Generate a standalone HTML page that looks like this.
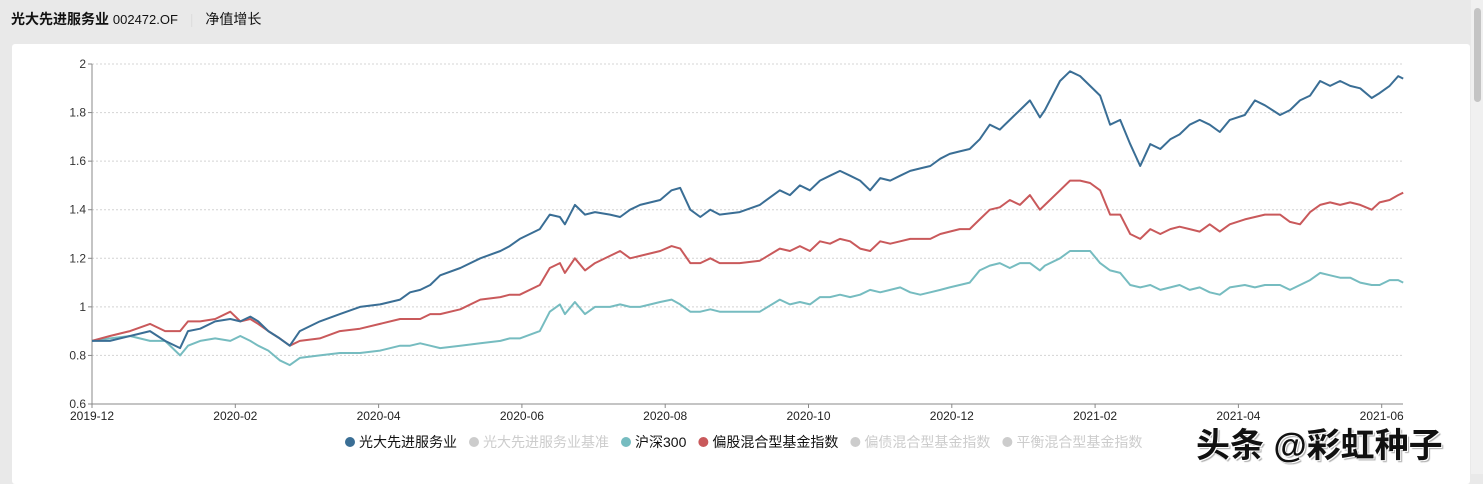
<!DOCTYPE html>
<html><head><meta charset="utf-8">
<style>
body{margin:0;width:1483px;height:474px;overflow:hidden;background:#e9e9e9;font-family:"Liberation Sans","Noto Sans CJK SC",sans-serif;position:relative}
#hdr{position:absolute;left:11px;top:9px;font-size:14px;color:#111}
#card{position:absolute;left:12px;top:44px;width:1458px;height:440px;background:#fff;border-radius:3px}
#sb{position:absolute;left:1471px;top:0;width:12px;height:474px;background:#f0f0f0}
#sbt{position:absolute;left:1474px;top:8px;width:7px;height:94px;background:#c4c4c4;border-radius:4px}
svg{position:absolute;left:0;top:0}
#wm{position:absolute;left:1196px;top:418px;font-size:34px;font-weight:bold;color:#111;font-family:"Liberation Sans","Noto Sans CJK SC",sans-serif;text-shadow:1px 1px 0 #fff,-1px -1px 0 #fff,2px 2px 1px #aaa}
</style></head><body>
<div id="hdr"><b>光大先进服务业</b> <span style="font-size:13px">002472.OF</span> <span style="color:#ddd;margin:0 8px">|</span> <span>净值增长</span></div>
<div id="card"></div>
<svg id="chart" width="1483" height="474"></svg>
<div id="sb"></div><div id="sbt"></div>
<div id="wm">头条 @彩虹种子</div>
<script>
const months=[0,.25,.53,.81,1.02,1.23,1.34,1.51,1.72,1.93,2.07,2.21,2.32,2.46,2.62,2.76,2.90,3.18,3.46,3.74,4.02,4.30,4.44,4.58,4.72,4.86,5.14,5.42,5.70,5.83,5.97,6.25,6.39,6.53,6.60,6.74,6.88,7.02,7.23,7.37,7.51,7.65,7.93,8.09,8.21,8.35,8.49,8.63,8.76,9.04,9.32,9.60,9.74,9.88,10.02,10.16,10.30,10.44,10.58,10.72,10.86,11.00,11.14,11.28,11.42,11.56,11.70,11.84,11.97,12.11,12.25,12.39,12.53,12.67,12.81,12.95,13.09,13.23,13.30,13.51,13.65,13.79,13.93,14.07,14.21,14.35,14.49,14.63,14.77,14.91,15.05,15.18,15.32,15.46,15.60,15.74,15.88,16.09,16.23,16.37,16.58,16.72,16.86,17.00,17.14,17.28,17.42,17.56,17.70,17.86,17.97,18.11,18.23,18.30];
const fund=[.86,.86,.88,.90,.86,.83,.90,.91,.94,.95,.94,.96,.94,.90,.87,.84,.90,.94,.97,1.00,1.01,1.03,1.06,1.07,1.09,1.13,1.16,1.20,1.23,1.25,1.28,1.32,1.38,1.37,1.34,1.42,1.38,1.39,1.38,1.37,1.40,1.42,1.44,1.48,1.49,1.40,1.37,1.40,1.38,1.39,1.42,1.48,1.46,1.50,1.48,1.52,1.54,1.56,1.54,1.52,1.48,1.53,1.52,1.54,1.56,1.57,1.58,1.61,1.63,1.64,1.65,1.69,1.75,1.73,1.77,1.81,1.85,1.78,1.81,1.93,1.97,1.95,1.91,1.87,1.75,1.77,1.67,1.58,1.67,1.65,1.69,1.71,1.75,1.77,1.75,1.72,1.77,1.79,1.85,1.83,1.79,1.81,1.85,1.87,1.93,1.91,1.93,1.91,1.90,1.86,1.88,1.91,1.95,1.94];
const hs300=[.86,.87,.88,.86,.86,.80,.84,.86,.87,.86,.88,.86,.84,.82,.78,.76,.79,.80,.81,.81,.82,.84,.84,.85,.84,.83,.84,.85,.86,.87,.87,.90,.98,1.01,.97,1.02,.97,1.00,1.00,1.01,1.00,1.00,1.02,1.03,1.01,.98,.98,.99,.98,.98,.98,1.03,1.01,1.02,1.01,1.04,1.04,1.05,1.04,1.05,1.07,1.06,1.07,1.08,1.06,1.05,1.06,1.07,1.08,1.09,1.10,1.15,1.17,1.18,1.16,1.18,1.18,1.15,1.17,1.20,1.23,1.23,1.23,1.18,1.15,1.14,1.09,1.08,1.09,1.07,1.08,1.09,1.07,1.08,1.06,1.05,1.08,1.09,1.08,1.09,1.09,1.07,1.09,1.11,1.14,1.13,1.12,1.12,1.10,1.09,1.09,1.11,1.11,1.10];
const mixed=[.86,.88,.90,.93,.90,.90,.94,.94,.95,.98,.94,.95,.93,.90,.87,.84,.86,.87,.90,.91,.93,.95,.95,.95,.97,.97,.99,1.03,1.04,1.05,1.05,1.09,1.16,1.18,1.14,1.20,1.15,1.18,1.21,1.23,1.20,1.21,1.23,1.25,1.24,1.18,1.18,1.20,1.18,1.18,1.19,1.24,1.23,1.25,1.23,1.27,1.26,1.28,1.27,1.24,1.23,1.27,1.26,1.27,1.28,1.28,1.28,1.30,1.31,1.32,1.32,1.36,1.40,1.41,1.44,1.42,1.46,1.40,1.42,1.48,1.52,1.52,1.51,1.48,1.38,1.38,1.30,1.28,1.32,1.30,1.32,1.33,1.32,1.31,1.34,1.31,1.34,1.36,1.37,1.38,1.38,1.35,1.34,1.39,1.42,1.43,1.42,1.43,1.42,1.40,1.43,1.44,1.46,1.47];
const yTicks=[0.6,0.8,1,1.2,1.4,1.6,1.8,2];
const xTickLabels=["2019-12","2020-02","2020-04","2020-06","2020-08","2020-10","2020-12","2021-02","2021-04","2021-06"];
const xTickMonths=[0,2,4,6,8,10,12,14,16,18];
const legendItems=[["光大先进服务业","#3a6e95",1],["光大先进服务业基准","#ccc",0],["沪深300","#76bcc0",1],["偏股混合型基金指数","#c9595b",1],["偏债混合型基金指数","#ccc",0],["平衡混合型基金指数","#ccc",0]];

const L=92,R=1403,T=64,B=404;
const X=m=>L+m*71.65;
const Y=v=>B-(v-0.6)/1.4*(B-T);
const svg=document.getElementById('chart');const NS="http://www.w3.org/2000/svg";
function mk(t,a,p){const e=document.createElementNS(NS,t);for(const k in a)e.setAttribute(k,a[k]);(p||svg).appendChild(e);return e;}
yTicks.forEach(v=>{
 if(v>0.6){const g=mk('line',{x1:L,x2:R,y1:Y(v),y2:Y(v),stroke:'#d4d4d4','stroke-dasharray':'2,2'});}
 mk('line',{x1:L-4,x2:L,y1:Y(v),y2:Y(v),stroke:'#888'});
 const t=mk('text',{x:L-6,y:Y(v)+4,'text-anchor':'end','font-size':12,fill:'#333'});t.textContent=v;
 
});
const ya=mk('line',{x1:L,x2:L,y1:T,y2:B,stroke:'#888'});
const xa=mk('line',{x1:L,x2:R,y1:B,y2:B,stroke:'#888'});
xTickMonths.forEach((m,i)=>{
 mk('line',{x1:X(m),x2:X(m),y1:B,y2:B+4,stroke:'#888'});
 const t=mk('text',{x:X(m),y:B+16,'text-anchor':'middle','font-size':12,fill:'#222'});t.textContent=xTickLabels[i];
 
});
function line(vals,col,name){
 const n=Math.min(vals.length,months.length);let d='';
 for(let i=0;i<n;i++)d+=(i?'L':'M')+X(months[i]).toFixed(1)+','+Y(vals[i]).toFixed(1);
 const p=mk('path',{d:d,fill:'none',stroke:col,'stroke-width':2,'stroke-linejoin':'round'});
 
}
line(hs300,'#76bcc0','series-hs300');
line(mixed,'#c9595b','series-equity-mixed-index');
line(fund,'#3a6e95','series-fund');
let lx=345;
legendItems.forEach(it=>{
 const g=mk('g',{});
 mk('circle',{cx:lx+5,cy:442,r:5,fill:it[1]},g);
 const t=mk('text',{x:lx+14,y:447,'font-size':14,fill:it[2]?'#111':'#ccc'},g);t.textContent=it[0];
 lx+=14+t.getComputedTextLength()+12;
});
</script>
</body></html>
